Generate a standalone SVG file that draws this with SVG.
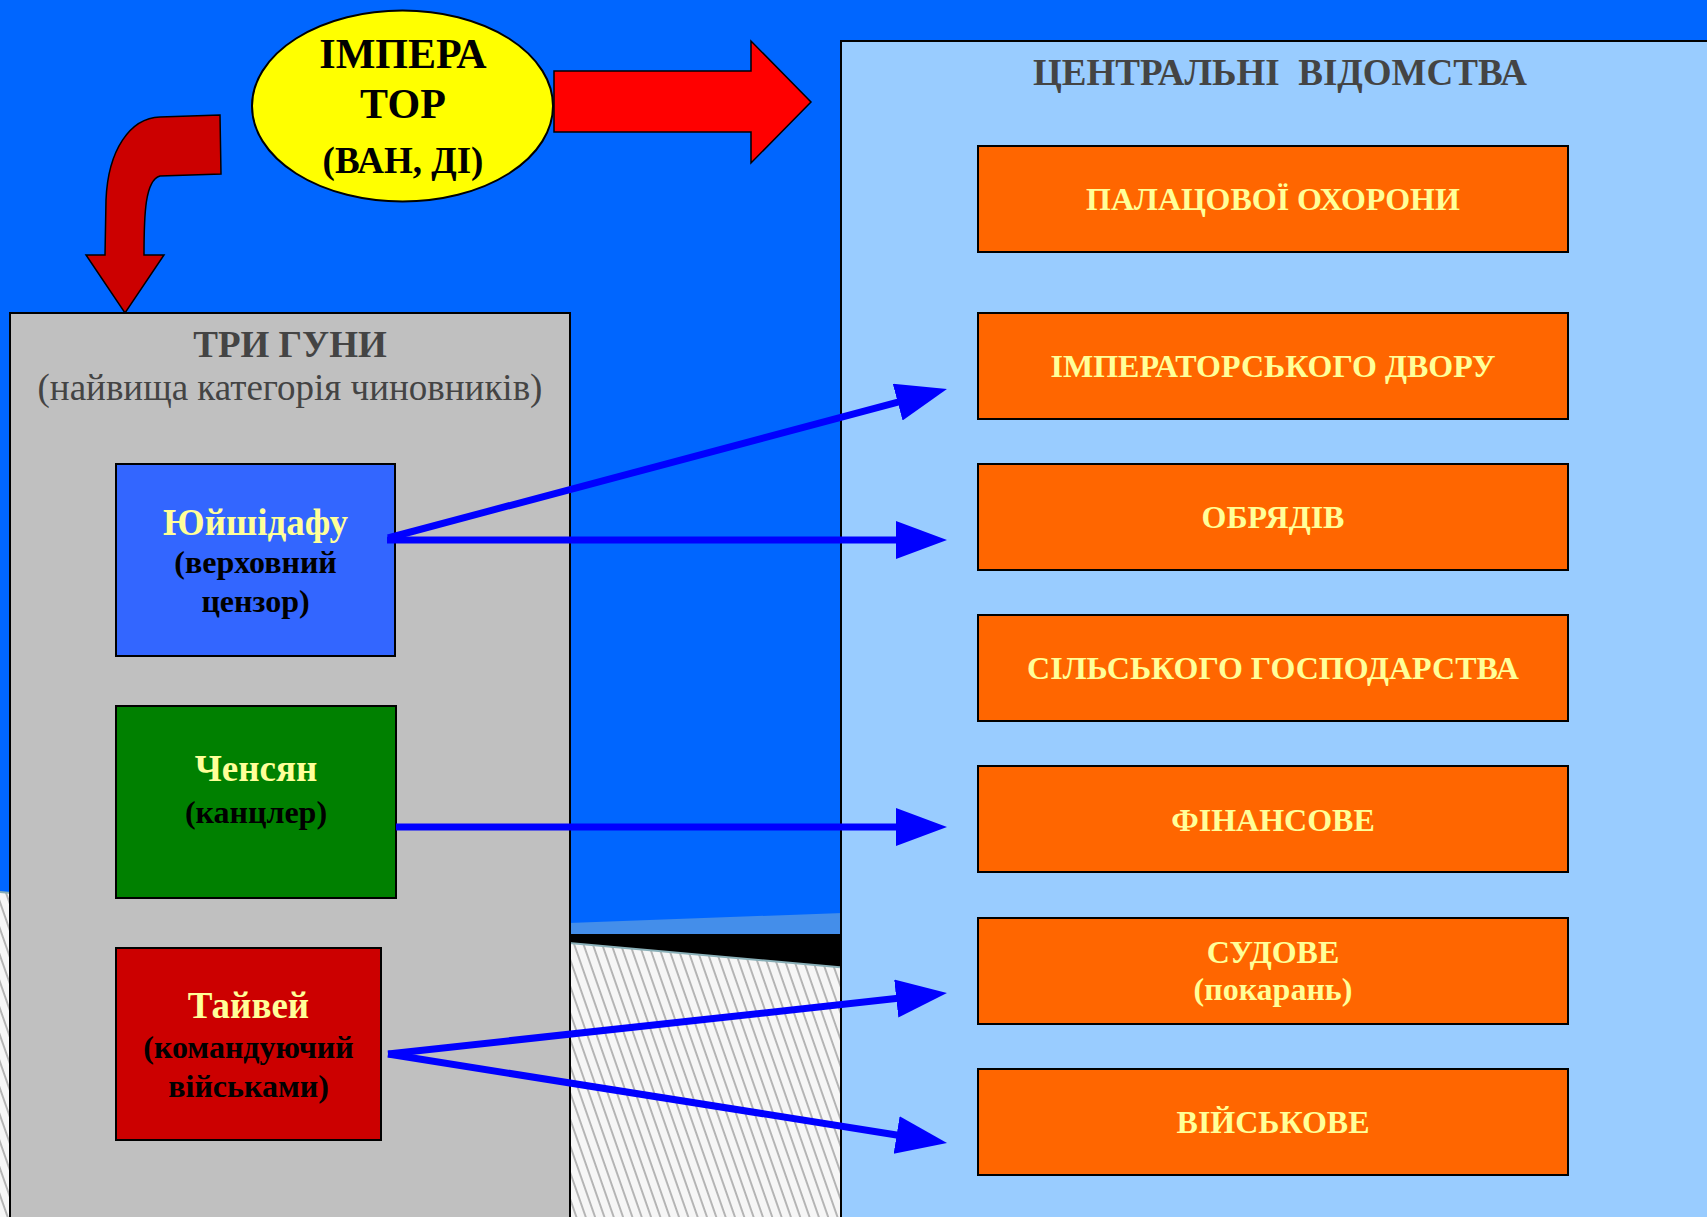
<svg xmlns="http://www.w3.org/2000/svg" width="1707" height="1217" viewBox="0 0 1707 1217">
<style>
.t{font-family:"Liberation Serif","Times New Roman",serif;font-weight:bold;text-anchor:middle}
.box{stroke:#000;stroke-width:2}
.dept{fill:#FF6600;stroke:#000;stroke-width:2}
.dt{font-family:"Liberation Serif","Times New Roman",serif;font-weight:bold;text-anchor:middle;fill:#FFFF99;font-size:32px}
.conn{stroke:#0000FF;stroke-width:7;fill:none;marker-end:url(#ah)}
</style>
<defs>
<pattern id="hatch" patternUnits="userSpaceOnUse" width="8.8" height="20" patternTransform="rotate(-19.3)">
<rect width="8.8" height="20" fill="#F6F6F6"/>
<line x1="1" y1="0" x2="1" y2="20" stroke="#9A9A9A" stroke-width="1.4"/>
</pattern>
<marker id="ah" markerUnits="userSpaceOnUse" markerWidth="52" markerHeight="40" refX="11" refY="19" orient="auto">
<path d="M0,0 L51,19 L0,38 Z" fill="#0000FF"/>
</marker>
</defs>
<g id="background">
<rect width="1707" height="1217" fill="#0066FF"/>
<polygon points="272,934 1707,881 1707,934" fill="#448EEA"/>
<rect x="0" y="934" width="1707" height="283" fill="#000"/>
<polygon points="0,892 1707,1045 1707,1217 0,1217" fill="url(#hatch)"/>
<line x1="0" y1="892" x2="1707" y2="1045" stroke="#8AB0B8" stroke-width="2"/>
</g>
<g id="emperor">
<ellipse cx="402.5" cy="106" rx="150.5" ry="95.5" fill="#FFFF00" stroke="#000" stroke-width="2"/>
<text class="t" x="403" y="68" font-size="42" fill="#000">ІМПЕРА</text>
<text class="t" x="403" y="118" font-size="42" fill="#000">ТОР</text>
<text class="t" x="403" y="173" font-size="37" fill="#000">(ВАН, ДІ)</text>
</g>
<g id="big-arrows">
<path d="M554,71 L751,71 L751,41 L811,102 L751,163 L751,132 L554,132 Z" fill="#FF0000" stroke="#000" stroke-width="1.5"/>
<path d="M220,115 L160,117 C130,118 108,150 106,200 L105,255 L86,255 L125,313 L164,255 L144,255 C144,215 145,180 160,176 L221,174 Z" fill="#CC0000" stroke="#000" stroke-width="1.5"/>
</g>
<g id="three-gongs">
<rect x="10" y="313" width="560" height="920" fill="#C0C0C0" stroke="#000" stroke-width="2"/>
<text class="t" x="290" y="357" font-size="37" fill="#444">ТРИ ГУНИ</text>
<text x="290" y="400" font-size="37" fill="#444" text-anchor="middle" font-family="'Liberation Serif', 'Times New Roman', serif">(найвища категорія чиновників)</text>
</g>
<g id="yushidafu">
<rect class="box" x="116" y="464" width="279" height="192" fill="#3366FF"/>
<text class="t" x="255.5" y="535" font-size="37" fill="#FFFF99">Юйшідафу</text>
<text class="t" x="255.5" y="573" font-size="32" fill="#000">(верховний</text>
<text class="t" x="255.5" y="612" font-size="32" fill="#000">цензор)</text>
</g>
<g id="chensyan">
<rect class="box" x="116" y="706" width="280" height="192" fill="#008000"/>
<text class="t" x="256" y="781" font-size="37" fill="#FFFF99">Ченсян</text>
<text class="t" x="256" y="823" font-size="32" fill="#000">(канцлер)</text>
</g>
<g id="taivei">
<rect class="box" x="116" y="948" width="265" height="192" fill="#CC0000"/>
<text class="t" x="248.5" y="1018" font-size="37" fill="#FFFF99">Тайвей</text>
<text class="t" x="248.5" y="1058" font-size="32" fill="#000">(командуючий</text>
<text class="t" x="248.5" y="1097" font-size="32" fill="#000">військами)</text>
</g>
<g id="central-departments">
<rect x="841" y="41" width="900" height="1200" fill="#99CCFF" stroke="#000" stroke-width="2"/>
<text class="t" x="1280" y="85" font-size="37" fill="#444" xml:space="preserve">ЦЕНТРАЛЬНІ  ВІДОМСТВА</text>
</g>
<g id="dept-palace"><rect class="dept" x="978" y="146" width="590" height="106"/><text class="dt" x="1273" y="210">ПАЛАЦОВОЇ ОХОРОНИ</text></g>
<g id="dept-court"><rect class="dept" x="978" y="313" width="590" height="106"/><text class="dt" x="1273" y="377">ІМПЕРАТОРСЬКОГО ДВОРУ</text></g>
<g id="dept-rites"><rect class="dept" x="978" y="464" width="590" height="106"/><text class="dt" x="1273" y="528">ОБРЯДІВ</text></g>
<g id="dept-agri"><rect class="dept" x="978" y="615" width="590" height="106"/><text class="dt" x="1273" y="679">СІЛЬСЬКОГО ГОСПОДАРСТВА</text></g>
<g id="dept-finance"><rect class="dept" x="978" y="766" width="590" height="106"/><text class="dt" x="1273" y="831">ФІНАНСОВЕ</text></g>
<g id="dept-judicial"><rect class="dept" x="978" y="918" width="590" height="106"/><text class="dt" x="1273" y="963">СУДОВЕ</text><text class="dt" x="1273" y="1000">(покарань)</text></g>
<g id="dept-military"><rect class="dept" x="978" y="1069" width="590" height="106"/><text class="dt" x="1273" y="1133">ВІЙСЬКОВЕ</text></g>
<g id="connectors">
<line class="conn" x1="388" y1="538" x2="908.3" y2="399.3"/>
<line class="conn" x1="387" y1="540" x2="907" y2="540"/>
<line class="conn" x1="396" y1="827" x2="907" y2="827"/>
<line class="conn" x1="388" y1="1054" x2="907.2" y2="997.3"/>
<line class="conn" x1="388" y1="1054" x2="907.5" y2="1136.7"/>
</g>
</svg>
